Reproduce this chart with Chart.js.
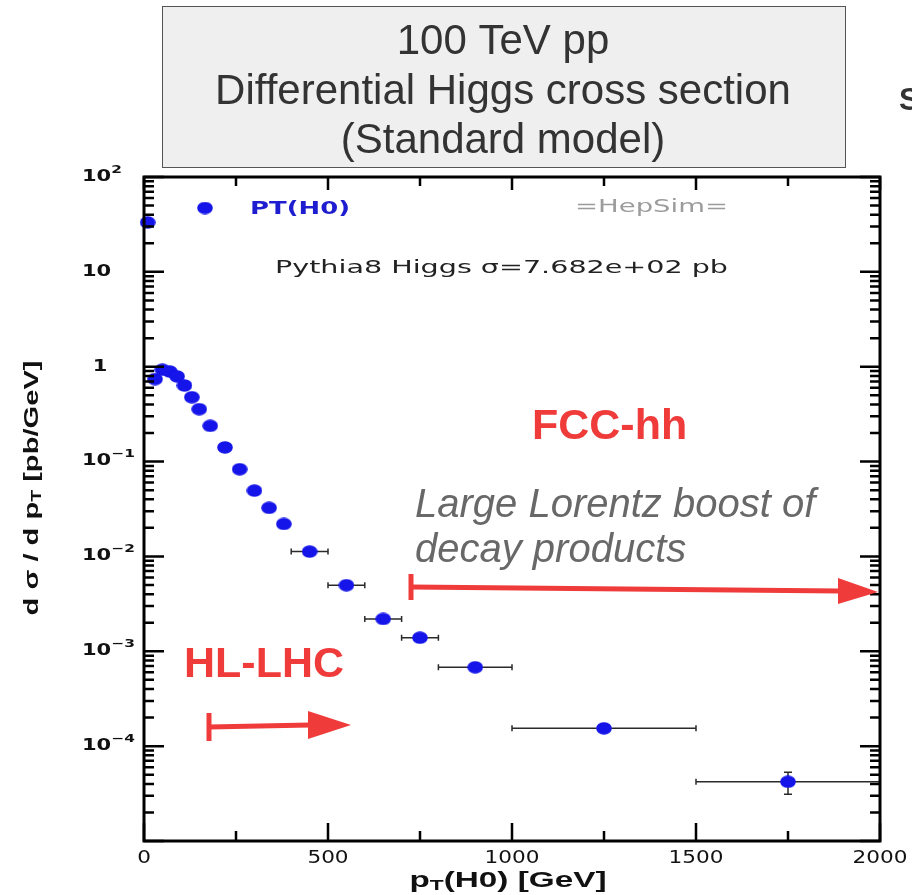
<!DOCTYPE html>
<html>
<head>
<meta charset="utf-8">
<script src="https://cdn.jsdelivr.net/npm/chart.js@4"></script>
<style>
  html, body { margin: 0; padding: 0; background: #fff; }
  canvas { display: block; }
</style>
</head>
<body>
<canvas id="myChart" width="912" height="895"></canvas>
<script>
// Higgs pT spectrum, 100 TeV pp (HepSim, Pythia8)
const ptCenter = [10, 30, 50, 70, 90, 110, 130, 150, 180, 220, 260, 300, 340, 380, 450, 550, 650, 750, 900, 1250, 1750];
const binLow   = [0, 20, 40, 60, 80, 100, 120, 140, 160, 200, 240, 280, 320, 360, 400, 500, 600, 700, 800, 1000, 1500];
const binHigh  = [20, 40, 60, 80, 100, 120, 140, 160, 200, 240, 280, 320, 360, 400, 500, 600, 700, 800, 1000, 1500, 2000];
const dsigma   = [33.2, 0.74, 0.93, 0.89, 0.79, 0.634, 0.477, 0.357, 0.238, 0.141, 0.083, 0.0494, 0.0325, 0.022,
                  0.01125, 0.00497, 0.00219, 0.00139, 0.000678, 0.000154, 0.0000421];
const dsigmaErr = [0.5, 0.01, 0.01, 0.01, 0.01, 0.008, 0.006, 0.005, 0.003, 0.002, 0.001, 0.0007, 0.0005, 0.0004,
                   0.0002, 0.0001, 0.00005, 0.00004, 0.00002, 0.000008, 0.000011];

const xMajorTicks = [0, 500, 1000, 1500, 2000];
const xMinorTicks = [250, 750, 1250, 1750];
const xTickLabels = ['0', '500', '1000', '1500', '2000'];
const yTickValues = [100, 10, 1, 0.1, 0.01, 0.001, 0.0001];
const yTickBase   = ['10', '10', '1', '10', '10', '10', '10'];
const yTickExp    = ['2', '', '', '\u22121', '\u22122', '\u22123', '\u22124'];

const RED = '#f03b3b';
const ROOT_FONT = '"DejaVu Sans"';

// elliptical ROOT marker (picture is stretched horizontally)
const marker = document.createElement('canvas');
marker.width = 16; marker.height = 13;
(function () {
  const m = marker.getContext('2d');
  m.fillStyle = '#1515ea';
  m.beginPath();
  m.ellipse(8, 6.5, 7.8, 6.2, 0, 0, Math.PI * 2);
  m.fill();
})();

function drawRuns(ctx, runs, x, y, align, target, sx) {
  let total = 0;
  runs.forEach(r => { ctx.font = r.font; r.w = ctx.measureText(r.t).width; total += r.w; });
  const s = target ? target / total : (sx || 1);
  let start = x;
  if (align === 'center') start = x - total * s / 2;
  if (align === 'right') start = x - total * s;
  ctx.save();
  ctx.translate(start, y);
  ctx.scale(s, 1);
  ctx.textAlign = 'left';
  ctx.textBaseline = 'middle';
  let cx = 0;
  runs.forEach(r => {
    ctx.font = r.font;
    ctx.fillStyle = r.color || ctx.fillStyle;
    ctx.fillText(r.t, cx, r.dy || 0);
    cx += r.w;
  });
  ctx.restore();
}

function arrow(ctx, x0, y0, x1, y1, tipX, tipY, headHalf, barHalf) {
  ctx.save();
  ctx.strokeStyle = RED;
  ctx.fillStyle = RED;
  ctx.lineWidth = 5;
  ctx.beginPath();
  ctx.moveTo(x0, y0 - barHalf); ctx.lineTo(x0, y0 + barHalf);
  ctx.stroke();
  ctx.beginPath();
  ctx.moveTo(x0, y0); ctx.lineTo(x1 + 2, y1);
  ctx.stroke();
  ctx.beginPath();
  ctx.moveTo(x1, y1 - headHalf);
  ctx.lineTo(tipX, tipY);
  ctx.lineTo(x1, y1 + headHalf);
  ctx.closePath();
  ctx.fill();
  ctx.restore();
}

const rootFrame = {
  id: 'rootFrame',
  beforeDraw(chart) {
    const { ctx } = chart;
    ctx.save();
    ctx.fillStyle = '#fff';
    ctx.fillRect(0, 0, chart.width, chart.height);

    // slide title box
    ctx.fillStyle = '#efefef';
    ctx.fillRect(162, 6, 683, 161);
    ctx.strokeStyle = '#555';
    ctx.lineWidth = 1;
    ctx.strokeRect(162.5, 6.5, 683, 161);
    ctx.fillStyle = '#333';
    ctx.textAlign = 'center';
    ctx.textBaseline = 'alphabetic';
    ctx.font = '42px "Liberation Sans"';
    ctx.fillText('100 TeV pp', 503, 54);
    ctx.fillText('Differential Higgs cross section', 503, 104);
    ctx.fillText('(Standard model)', 503, 153);

    ctx.font = 'bold 31px "Liberation Sans"';
    ctx.textAlign = 'left';
    ctx.fillText('S', 899, 110);
    ctx.restore();
  },
  beforeDatasetsDraw(chart) {
    const { ctx, scales: { x, y } } = chart;
    ctx.save();
    ctx.strokeStyle = '#2a2a2a';
    ctx.lineWidth = 1.5;
    ptCenter.forEach((pt, i) => {
      const px = x.getPixelForValue(pt);
      const py = y.getPixelForValue(dsigma[i]);
      const xl = x.getPixelForValue(binLow[i]);
      const xh = x.getPixelForValue(binHigh[i]);
      if (px - xl > 9) {
        ctx.beginPath();
        ctx.moveTo(xl, py); ctx.lineTo(xh, py);
        ctx.moveTo(xl, py - 3); ctx.lineTo(xl, py + 3);
        ctx.moveTo(xh, py - 3); ctx.lineTo(xh, py + 3);
        ctx.stroke();
      }
      const yl = y.getPixelForValue(dsigma[i] - dsigmaErr[i]);
      const yh = y.getPixelForValue(dsigma[i] + dsigmaErr[i]);
      if (yl - py > 7) {
        ctx.beginPath();
        ctx.moveTo(px, yh); ctx.lineTo(px, yl);
        ctx.moveTo(px - 4, yh); ctx.lineTo(px + 4, yh);
        ctx.moveTo(px - 4, yl); ctx.lineTo(px + 4, yl);
        ctx.stroke();
      }
    });
    ctx.restore();
  },
  afterDatasetsDraw(chart) {
    const { ctx, chartArea: a, scales: { x, y } } = chart;
    ctx.save();

    // ticks
    ctx.strokeStyle = '#000';
    ctx.lineWidth = 2.5;
    ctx.beginPath();
    xMajorTicks.forEach(v => {
      const px = x.getPixelForValue(v);
      ctx.moveTo(px, a.bottom); ctx.lineTo(px, a.bottom - 18);
      ctx.moveTo(px, a.top); ctx.lineTo(px, a.top + 13);
    });
    xMinorTicks.forEach(v => {
      const px = x.getPixelForValue(v);
      ctx.moveTo(px, a.bottom); ctx.lineTo(px, a.bottom - 10);
      ctx.moveTo(px, a.top); ctx.lineTo(px, a.top + 9);
    });
    for (let e = -5; e <= 2; e++) {
      for (let k = 1; k <= 9; k++) {
        const v = k * Math.pow(10, e);
        if (v > 100.0001) continue;
        const py = y.getPixelForValue(v);
        const len = k === 1 ? 20 : 10;
        ctx.moveTo(a.left, py); ctx.lineTo(a.left + len, py);
        ctx.moveTo(a.right, py); ctx.lineTo(a.right - len, py);
      }
    }
    ctx.stroke();

    // frame
    ctx.lineWidth = 3;
    ctx.strokeRect(a.left, a.top, a.right - a.left, a.bottom - a.top);

    // x tick labels
    ctx.fillStyle = '#111';
    xMajorTicks.forEach((v, i) => {
      drawRuns(ctx, [{ t: xTickLabels[i], font: '18px ' + ROOT_FONT }], x.getPixelForValue(v), 858, 'center', 0, 1.2);
    });
    // y tick labels
    yTickValues.forEach((v, i) => {
      const py = y.getPixelForValue(v);
      const runs = [{ t: yTickBase[i], font: 'bold 15px ' + ROOT_FONT, color: '#111' }];
      if (yTickExp[i]) runs.push({ t: yTickExp[i], font: 'bold 11px ' + ROOT_FONT, dy: -7, color: '#111' });
      if (yTickBase[i] === '1') drawRuns(ctx, runs, 100, py, 'center', 0, 1.4);
      else drawRuns(ctx, runs, 82, py, 'left', 0, 1.4);
    });

    // axis titles
    drawRuns(ctx, [
      { t: 'p', font: 'bold 22px "Liberation Sans"', color: '#111' },
      { t: 'T', font: 'bold 15px "Liberation Sans"', dy: 5 },
      { t: '(H0) [GeV]', font: 'bold 22px "Liberation Sans"' }
    ], 508, 881, 'center', 197);
    ctx.save();
    ctx.translate(32, 488);
    ctx.rotate(-Math.PI / 2);
    drawRuns(ctx, [
      { t: 'd \u03c3 / d p', font: 'bold 21px "Liberation Sans"', color: '#111' },
      { t: 'T', font: 'bold 14px "Liberation Sans"', dy: 5 },
      { t: ' [pb/GeV]', font: 'bold 21px "Liberation Sans"' }
    ], 0, 0, 'center', 255);
    ctx.restore();

    // legend and info texts
    ctx.drawImage(marker, 205 - 8, 208 - 6.5);
    drawRuns(ctx, [{ t: 'PT(H0)', font: 'bold 18px ' + ROOT_FONT, color: '#1e1ed0' }], 250, 209, 'left', 100);
    drawRuns(ctx, [{ t: '=HepSim=', font: '18px ' + ROOT_FONT, color: '#9c9c9c' }], 575, 207, 'left', 153);
    drawRuns(ctx, [{ t: 'Pythia8 Higgs \u03c3=7.682e+02 pb', font: '18px ' + ROOT_FONT, color: '#222' }], 275, 268, 'left', 453);

    // slide annotations
    ctx.fillStyle = RED;
    ctx.textBaseline = 'alphabetic';
    ctx.textAlign = 'left';
    ctx.font = 'bold 43px "Liberation Sans"';
    ctx.fillText('FCC-hh', 532, 439);
    ctx.fillText('HL-LHC', 184, 677);
    ctx.fillStyle = '#686868';
    ctx.font = 'italic 40px "Liberation Sans"';
    ctx.fillText('Large Lorentz boost of', 415, 517);
    ctx.fillText('decay products', 415, 562);

    arrow(ctx, 411, 587, 838, 591, 878, 592, 13, 13);
    arrow(ctx, 209, 727, 308, 725, 351, 725, 14, 14);

    ctx.restore();
  }
};

const ctx = document.getElementById('myChart');

new Chart(ctx, {
  type: 'scatter',
  data: {
    datasets: [{
      label: 'PT(H0)',
      data: ptCenter.map((pt, i) => ({ x: pt, y: dsigma[i] })),
      pointStyle: marker,
      pointRadius: 8,
      clip: false
    }]
  },
  options: {
    responsive: false,
    animation: false,
    events: [],
    layout: { padding: { left: 144, top: 177, right: 32, bottom: 54 } },
    plugins: {
      legend: { display: false },
      tooltip: { enabled: false }
    },
    scales: {
      x: { type: 'linear', min: 0, max: 2000, display: false },
      y: { type: 'logarithmic', min: 1e-5, max: 100, display: false }
    }
  },
  plugins: [rootFrame]
});
</script>
</body>
</html>
